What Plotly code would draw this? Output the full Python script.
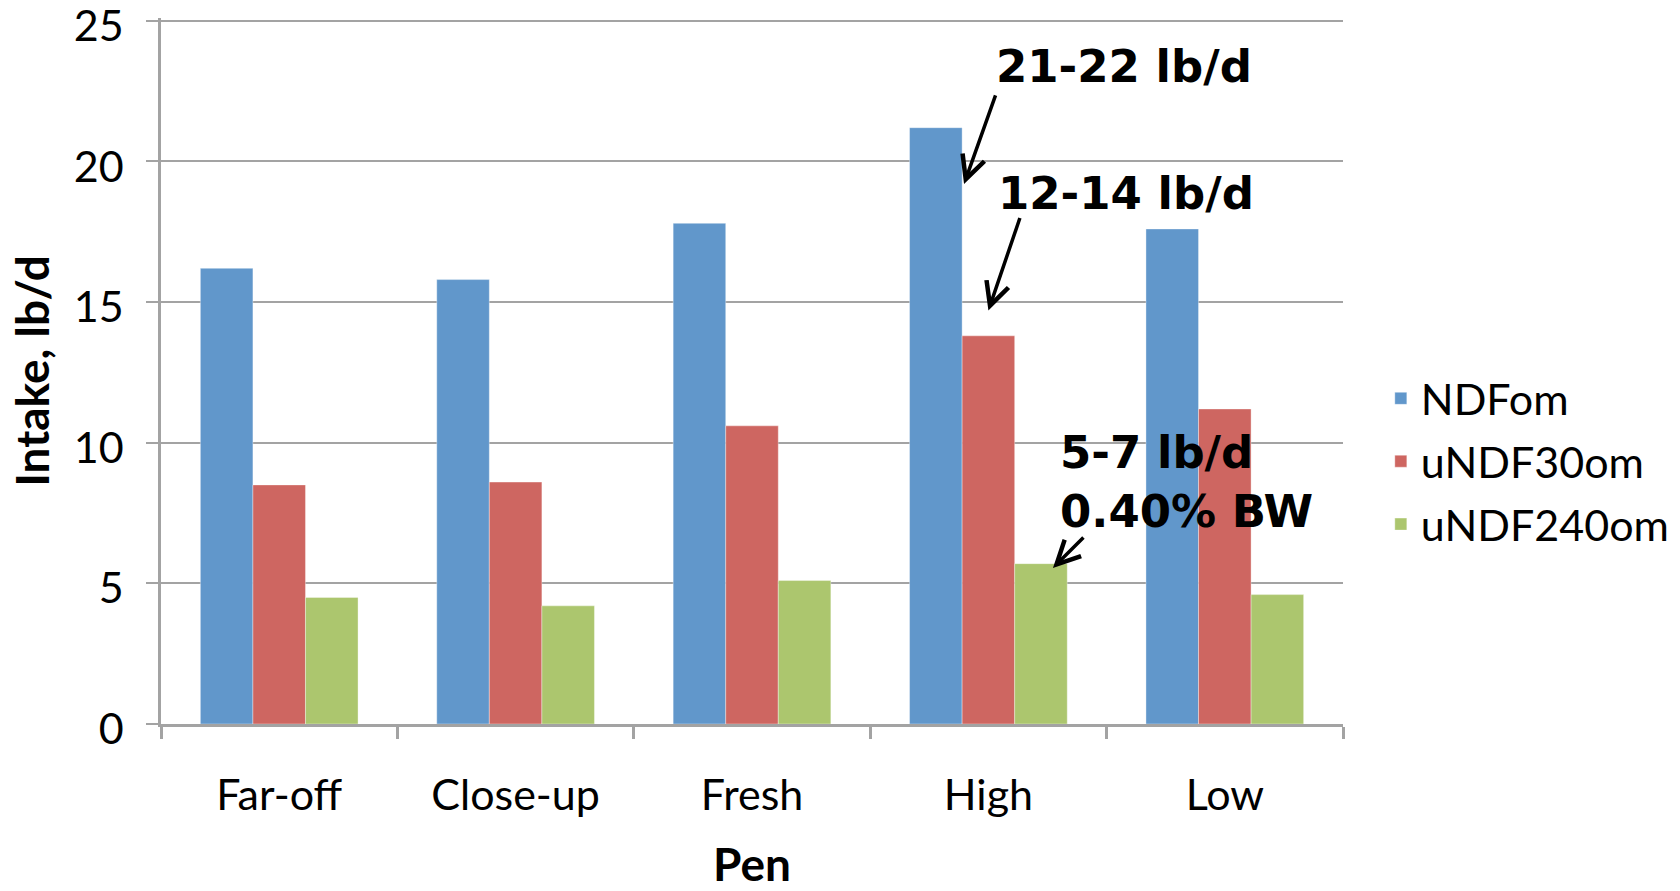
import plotly.graph_objects as go

categories = ["Far-off", "Close-up", "Fresh", "High", "Low"]
ndfom = [16.2, 15.8, 17.8, 21.2, 17.6]
undf30om = [8.5, 8.6, 10.6, 13.8, 11.2]
undf240om = [4.5, 4.2, 5.1, 5.7, 4.6]
series_names = ["NDFom", "uNDF30om", "uNDF240om"]
y_ticks = [0, 5, 10, 15, 20, 25]

colors = ["#6197CB", "#CE6661", "#ACC66E"]
FONT = "Lato"
ANN_FONT = "DejaVu Sans"
GRID = "#A3A3A3"

fig = go.Figure()
for name, vals, col in zip(series_names, [ndfom, undf30om, undf240om], colors):
    fig.add_trace(go.Bar(x=categories, y=vals, name=name, legendgroup=name,
                         marker=dict(color=col, line=dict(width=0.6, color="rgba(255,255,255,0.6)"))))

fig.update_layout(
    width=1680, height=891,
    paper_bgcolor="white", plot_bgcolor="white",
    margin=dict(l=161, r=337, t=18, b=167, autoexpand=False),
    barmode="group", bargap=0.333, bargroupgap=0,
    font=dict(family=FONT, size=43, color="black"),
    showlegend=True,
    legend=dict(x=1.032, xanchor="left", y=0.372, yanchor="middle",
                font=dict(family=FONT, size=43), tracegroupgap=4,
                traceorder="grouped", itemwidth=30),
)
fig.update_xaxes(
    automargin=False,
    showline=True, linecolor=GRID, linewidth=2.5,
    ticks="outside", tickson="boundaries", ticklen=12, tickwidth=2.5, tickcolor=GRID,
    ticklabelstandoff=32,
    tickfont=dict(family=FONT, size=43),
    title=dict(text="<b>Pen</b>", font=dict(family=FONT, size=46), standoff=43),
)
fig.update_yaxes(
    automargin=False,
    range=[0, 25.1], tickmode="array", tickvals=y_ticks,
    ticklabeloverflow="allow", ticklabelstandoff=14, ticklabelshift=5,
    showline=True, linecolor=GRID, linewidth=2.5,
    showgrid=True, gridcolor=GRID, gridwidth=2,
    ticks="outside", ticklen=12, tickwidth=2, tickcolor=GRID,
    tickfont=dict(family=FONT, size=43),
    zeroline=False,
    title=dict(text="<b>Intake, lb/d</b>", font=dict(family=FONT, size=46), standoff=10),
)

# text annotations
ann_font = dict(family=ANN_FONT, size=45, color="black")
fig.add_annotation(x=3.024, y=23.36, xref="x", yref="y", text="<b>21-22 lb/d</b>",
                   showarrow=False, xanchor="left", yanchor="middle", font=ann_font)
fig.add_annotation(x=3.032, y=18.85, xref="x", yref="y", text="<b>12-14 lb/d</b>",
                   showarrow=False, xanchor="left", yanchor="middle", font=ann_font)
fig.add_annotation(x=3.294, y=8.6, xref="x", yref="y", text="<b>5-7 lb/d<br>0.40% BW</b>",
                   showarrow=False, xanchor="left", yanchor="middle", align="left", font=ann_font)

# arrows
for hx, hy, ax, ay in [(2.897, 19.2, 32, -90), (3.0, 14.7, 32, -94), (3.273, 5.55, 32, -32)]:
    fig.add_annotation(x=hx, y=hy, xref="x", yref="y", text="", showarrow=True,
                       ax=ax, ay=ay, arrowhead=5, arrowsize=1.3, arrowwidth=3.5,
                       arrowcolor="black", standoff=0)

fig.write_html("out.html", config={"displayModeBar": False},
               post_script="document.body.style.margin='0';document.body.style.overflow='hidden';")
